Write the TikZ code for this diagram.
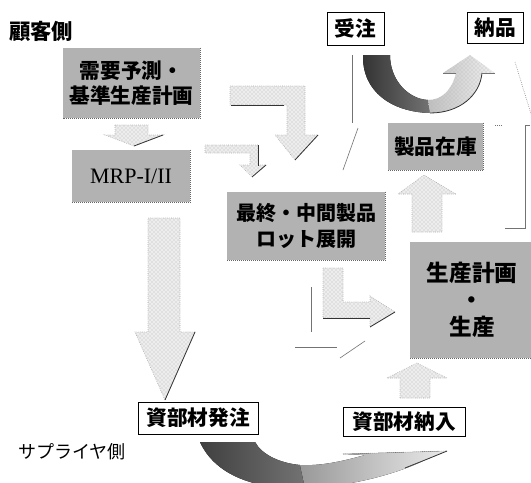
\documentclass[tikz,border=0pt]{standalone}
\usepackage{fontspec}
\setmainfont{Liberation Serif}
\newfontfamily\jp{Noto Sans CJK JP}
\usetikzlibrary{patterns}
\tikzset{
  graybox/.style={fill=black!30, inner sep=0pt, align=center,
    font=\jp\bfseries\fontsize{15.5}{18.5}\selectfont},
  whitebox/.style={draw=black, line width=0.6pt, fill=white, inner sep=0pt,
    align=center, font=\jp\bfseries\fontsize{15.5}{18.5}\selectfont},
  edgeline/.style={draw=black!60, line width=0.5pt, densely dotted},
  blockarrow/.style={fill=black!7, draw=black!35, densely dotted, line width=0.45pt},
  blockpat/.style={pattern=crosshatch dots, pattern color=black!28},
  shadowline/.style={draw=black!80, line width=0.6pt},
  faintline/.style={draw=black!55, line width=0.45pt},
  sidelabel/.style={inner sep=0pt, font=\jp\bfseries\fontsize{16}{19}\selectfont}
}
\begin{document}
\begin{tikzpicture}[x=0.75pt,y=-0.75pt]
\useasboundingbox[fill=white] (0,0) rectangle (531,482);
\clip (0,0) rectangle (531,482);

% side labels
\node[sidelabel] (cust) at (41,31) {顧客側};
\node[sidelabel, font=\jp\fontsize{13.5}{16}\selectfont] (supp) at (72,452) {サプライヤ側};

% gray boxes
\node[graybox, minimum width=102.75pt, minimum height=52.5pt] (dem) at (131.5,83) {需要予測・\\基準生産計画};
\node[graybox, minimum width=88.5pt, minimum height=39pt, font=\fontsize{16.5}{19}\selectfont] (mrp) at (131,176) {MRP-I/II};
\node[graybox, minimum width=118.5pt, minimum height=51pt, font=\jp\bfseries\fontsize{15}{19}\selectfont] (lot) at (306,226) {最終・中間製品\\ロット展開};
\node[graybox, minimum width=71.25pt, minimum height=35.25pt] (zaiko) at (435.5,146.5) {製品在庫};
\node[graybox, minimum width=93pt, minimum height=87pt, font=\jp\bfseries\fontsize{17}{20.5}\selectfont] (plan) at (472,300) {生産計画\\・\\生産};
\foreach \b in {dem,mrp,lot,zaiko,plan}
  \draw[edgeline] (\b.north east) -- (\b.south east) -- (\b.south west);

% white boxes
\node[whitebox, minimum width=42.75pt, minimum height=24.75pt] (juchu) at (355.5,28.5) {受注};
\node[whitebox, minimum width=42pt, minimum height=23.25pt] (nohin) at (495,27.5) {納品};
\node[whitebox, minimum width=90pt, minimum height=24pt] (hatchu) at (198,418) {資部材発注};
\node[whitebox, minimum width=91.5pt, minimum height=21.75pt] (nonyu) at (404,421.5) {資部材納入};

% block arrows
% dem -> mrp
\path[blockarrow] (115,125) -- (148,125) -- (148,135) -- (163,135) -- (134,146) -- (105,135) -- (115,135) -- cycle;
\path[blockpat] (115,125) -- (148,125) -- (148,135) -- (163,135) -- (134,146) -- (105,135) -- (115,135) -- cycle;
\draw[shadowline] (163,135) -- (134,146);
% dem -> lot (bent)
\path[blockarrow] (230,86) -- (305,86) -- (305,135) -- (318,135) -- (295,160) -- (275,135) -- (287,135) -- (287,105) -- (230,105) -- cycle;
\path[blockpat] (230,86) -- (305,86) -- (305,135) -- (318,135) -- (295,160) -- (275,135) -- (287,135) -- (287,105) -- (230,105) -- cycle;
\draw[shadowline] (231,105) -- (284,105);
\draw[shadowline] (318,135) -- (295,160);
% mrp -> lot (bent)
\path[blockarrow] (205,145) -- (258,145) -- (258,165) -- (266,165) -- (252,177) -- (240,165) -- (250,165) -- (250,153) -- (205,153) -- cycle;
\path[blockpat] (205,145) -- (258,145) -- (258,165) -- (266,165) -- (252,177) -- (240,165) -- (250,165) -- (250,153) -- (205,153) -- cycle;
\draw[shadowline] (258,145) -- (258,166);
\draw[shadowline] (266,165) -- (252,177);
% mrp -> hatchu
\path[blockarrow] (148,218) -- (180,218) -- (180,332) -- (195,332) -- (165,400) -- (135,332) -- (148,332) -- cycle;
\path[blockpat] (148,218) -- (180,218) -- (180,332) -- (195,332) -- (165,400) -- (135,332) -- (148,332) -- cycle;
\draw[shadowline] (195,332) -- (165,400);
% lot -> plan (L shape)
\path[blockarrow] (323,268) -- (343,268) -- (343,302) -- (370,302) -- (370,296) -- (395,312) -- (370,327) -- (370,318) -- (323,318) -- cycle;
\path[blockpat] (323,268) -- (343,268) -- (343,302) -- (370,302) -- (370,296) -- (395,312) -- (370,327) -- (370,318) -- (323,318) -- cycle;
\draw[shadowline] (323,318) -- (370,318);
\draw[shadowline] (370,327) -- (395,312);
% nonyu -> plan
\path[blockarrow] (400,398) -- (430,398) -- (430,378) -- (447,378) -- (417,363) -- (387,378) -- (400,378) -- cycle;
\path[blockpat] (400,398) -- (430,398) -- (430,378) -- (447,378) -- (417,363) -- (387,378) -- (400,378) -- cycle;
% plan -> zaiko
\path[blockarrow] (412,232) -- (442,232) -- (442,194) -- (456,194) -- (424,175) -- (398,194) -- (412,194) -- cycle;
\path[blockpat] (412,232) -- (442,232) -- (442,194) -- (456,194) -- (424,175) -- (398,194) -- (412,194) -- cycle;

% curved arrow juchu -> nohin
\fill[left color=black!80, right color=black!55] (363,55) .. controls (362,92) and (392,112) .. (430,113) -- (428,100) .. controls (408,99) and (390,80) .. (390,55) -- cycle;
\path[left color=black!25, right color=black!6] (430,113) .. controls (460,113) and (480,95) .. (482,73) -- (495,73) -- (470,55) -- (443,73) -- (456,73) .. controls (452,90) and (442,100) .. (428,100) -- cycle;
\path[blockpat] (430,113) .. controls (460,113) and (480,95) .. (482,73) -- (495,73) -- (470,55) -- (443,73) -- (456,73) .. controls (452,90) and (442,100) .. (428,100) -- cycle;
\draw[shadowline] (430,113) .. controls (460,113) and (480,95) .. (482,73);
\draw[faintline] (482,73) -- (495,73);
\draw[faintline] (443,73) -- (456,73);

% curved arrow hatchu -> nonyu
\fill[left color=black!75, right color=black!55] (200,442) .. controls (215,475) and (255,490) .. (305,488) -- (300,465) .. controls (280,463) and (262,455) .. (255,442) -- cycle;
\fill[left color=black!40, right color=black!8] (305,488) .. controls (360,486) and (405,470) .. (425,460) -- (447,451) -- (343,454) -- (365,455) .. controls (340,462) and (320,466) .. (300,465) -- cycle;
\draw[shadowline] (405,468) -- (425,460) -- (447,451);
\draw[faintline, densely dotted] (343,454) -- (447,451);

% stray lines
\draw[faintline] (352,55) -- (352,123);
\draw[faintline] (358,128) -- (343,170);
\draw[faintline, densely dotted] (515,62) -- (532,117);
\draw[faintline] (530,125) -- (525,125) -- (525,228) -- (505,228);
\draw[faintline, densely dotted] (495,125) -- (502,125);
\draw[faintline] (311,287) -- (311,332);
\draw[faintline] (295,347) -- (337,347);
\draw[faintline] (340,358) -- (365,341);
\end{tikzpicture}
\end{document}
